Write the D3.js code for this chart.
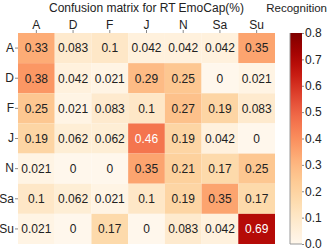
<!DOCTYPE html>
<html>
<head>
<meta charset="utf-8">
<script src="https://cdn.jsdelivr.net/npm/d3@7"></script>
<style>
body { margin: 0; background: #fff; }
text { font-family: "Liberation Sans", Arial, sans-serif; }
</style>
</head>
<body>
<svg id="chart" width="329" height="252"></svg>
<script>
'use strict';
var labels = ["A", "D", "F", "J", "N", "Sa", "Su"];
var rowA = [0.33, 0.083, 0.1, 0.042, 0.042, 0.042, 0.35];
var rowD = [0.38, 0.042, 0.021, 0.29, 0.25, 0, 0.021];
var rowF = [0.25, 0.021, 0.083, 0.1, 0.27, 0.19, 0.083];
var rowJ = [0.19, 0.062, 0.062, 0.46, 0.19, 0.042, 0];
var rowN = [0.021, 0, 0, 0.35, 0.21, 0.17, 0.25];
var rowSa = [0.1, 0.062, 0.021, 0.1, 0.19, 0.35, 0.17];
var rowSu = [0.021, 0, 0.17, 0, 0.083, 0.042, 0.69];
var rows = [rowA, rowD, rowF, rowJ, rowN, rowSa, rowSu];
var cbTicks = [0.0, 0.1, 0.2, 0.3, 0.4, 0.5, 0.6, 0.7, 0.8];

var FONT = '"Liberation Sans", Arial, sans-serif';

function drawMatrix() {
	let svg = d3.select("#chart");
	let left = 18, top = 33, right = 275, bottom = 244;

	let x = d3.scaleBand().domain(labels).range([left, right]);
	let y = d3.scaleBand().domain(labels).range([top, bottom]);
	let color = d3.scaleSequential(d3.interpolateOrRd).domain([0, 0.8]);

	let cells = [];
	rows.forEach(function (r, i) {
		r.forEach(function (v, j) {
			cells.push({row: labels[i], col: labels[j], value: v});
		});
	});

	svg.append("g").selectAll("rect")
		.data(cells)
		.enter().append("rect")
		.attr("x", function (d) { return x(d.col); })
		.attr("y", function (d) { return y(d.row); })
		.attr("width", x.bandwidth())
		.attr("height", y.bandwidth())
		.attr("fill", function (d) { return color(d.value); });

	svg.append("g").selectAll("text")
		.data(cells)
		.enter().append("text")
		.attr("x", function (d) { return x(d.col) + x.bandwidth() / 2; })
		.attr("y", function (d) { return y(d.row) + y.bandwidth() / 2; })
		.attr("dy", "0.36em")
		.attr("text-anchor", "middle")
		.attr("font-size", 12)
		.attr("fill", function (d) { return d.value > 0.4 ? "#fff" : "#222"; })
		.text(function (d) { return d.value; });

	let xAxis = svg.append("g")
		.attr("transform", "translate(0," + top + ")")
		.call(d3.axisTop(x).tickSize(3).tickPadding(1));
	let yAxis = svg.append("g")
		.attr("transform", "translate(" + left + ",0)")
		.call(d3.axisLeft(y).tickSize(3).tickPadding(1));
	for (let ax of [xAxis, yAxis]) {
		ax.select(".domain").remove();
		ax.selectAll("line").attr("stroke", "#888");
		ax.selectAll("text").attr("font-size", 12).attr("fill", "#222")
			.style("font-family", FONT);
	}

	svg.append("text")
		.attr("x", (left + right) / 2)
		.attr("y", 12)
		.attr("text-anchor", "middle")
		.attr("font-size", 12)
		.attr("fill", "#222")
		.text("Confusion matrix for RT EmoCap(%)");

	// colour bar
	let cbX = 290, cbW = 12;
	let cy = d3.scaleLinear().domain([0, 0.8]).range([bottom, top]);
	let defs = svg.append("defs");
	let grad = defs.append("linearGradient")
		.attr("id", "cbGrad")
		.attr("x1", 0).attr("y1", 1).attr("x2", 0).attr("y2", 0);
	d3.range(0, 1.0001, 0.05).forEach(function (t) {
		grad.append("stop")
			.attr("offset", t)
			.attr("stop-color", color(t * 0.8));
	});
	svg.append("rect")
		.attr("x", cbX).attr("y", top)
		.attr("width", cbW).attr("height", bottom - top)
		.attr("fill", "url(#cbGrad)");
	svg.append("path")
		.attr("d", "M" + cbX + "," + top + "V" + bottom + "H" + (cbX + cbW))
		.attr("fill", "none").attr("stroke", "#999").attr("stroke-width", 1);

	let cbAxis = svg.append("g")
		.attr("transform", "translate(" + (cbX + cbW) + ",0)")
		.call(d3.axisRight(cy).tickValues(cbTicks).tickFormat(d3.format(".1f")).tickSize(2).tickPadding(1));
	cbAxis.select(".domain").remove();
	cbAxis.selectAll("line").attr("stroke", "#888");
	cbAxis.selectAll("text").attr("font-size", 12).attr("fill", "#222")
		.style("font-family", FONT);

	svg.append("text")
		.attr("x", 327)
		.attr("y", 12)
		.attr("text-anchor", "end")
		.attr("font-size", 11.5)
		.attr("fill", "#222")
		.text("Recognition");
}

drawMatrix();
</script>
</body>
</html>
